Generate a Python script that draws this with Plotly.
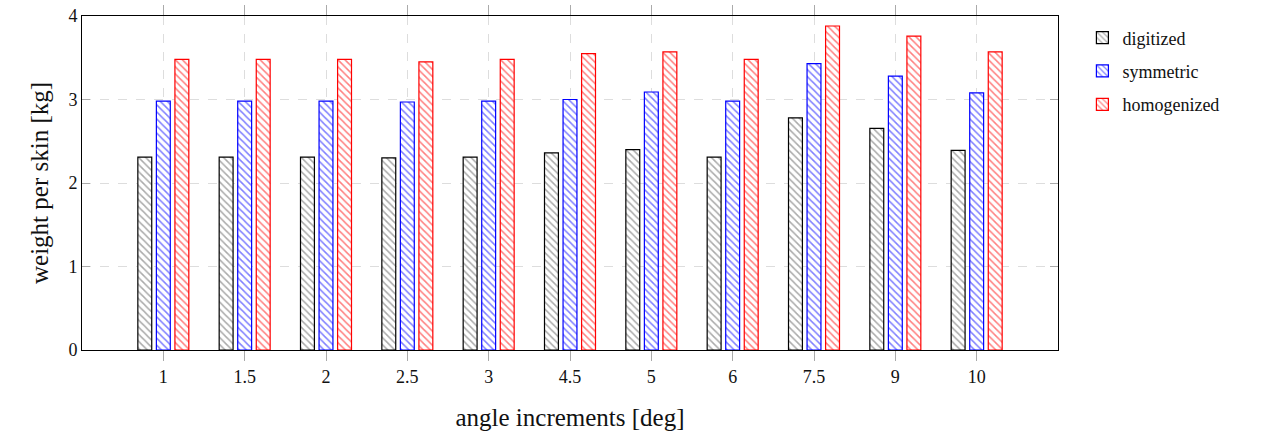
import plotly.graph_objects as go

categories = ["1", "1.5", "2", "2.5", "3", "4.5", "5", "6", "7.5", "9", "10"]
digitized = [2.31, 2.31, 2.31, 2.30, 2.31, 2.36, 2.40, 2.31, 2.78, 2.655, 2.39]
symmetric = [2.98, 2.98, 2.98, 2.97, 2.98, 3.00, 3.09, 2.98, 3.43, 3.28, 3.08]
homogenized = [3.48, 3.48, 3.48, 3.45, 3.48, 3.55, 3.57, 3.48, 3.88, 3.76, 3.57]
y_ticks = [0, 1, 2, 3, 4]

series = [
    ("digitized", digitized, "#000000", "#555555"),
    ("symmetric", symmetric, "#0000ff", "#0000ff"),
    ("homogenized", homogenized, "#ff0000", "#ff0000"),
]

FONT = "Liberation Serif"
TXT = "#111111"

fig = go.Figure()
for name, vals, line_c, hatch_c in series:
    fig.add_trace(go.Bar(
        x=categories, y=vals, name=name, legendgroup=name,
        marker=dict(
            color="white",
            line=dict(color=line_c, width=1.2),
            pattern=dict(shape="\\", fgcolor=hatch_c, bgcolor="white",
                         size=5, solidity=0.3, fillmode="overlay"),
        ),
    ))

fig.update_layout(
    width=1268, height=436,
    margin=dict(l=82, r=210, t=16, b=86, autoexpand=False),
    paper_bgcolor="white", plot_bgcolor="white",
    barmode="group", bargap=0.316, bargroupgap=0.25,
    font=dict(family=FONT, size=17, color=TXT),
    legend=dict(x=1.025, y=0.99, xanchor="left", yanchor="top",
                font=dict(family=FONT, size=18, color=TXT),
                bgcolor="rgba(0,0,0,0)", itemwidth=30, tracegroupgap=7),
    showlegend=True,
)
fig.update_xaxes(
    type="category", categoryorder="array", categoryarray=categories,
    range=[-1, 11], automargin=False, ticklabeloverflow="allow",
    showline=True, linecolor="black", linewidth=1, mirror="ticks",
    ticks="outside", ticklen=10, tickcolor="#aaaaaa", tickwidth=1,
    showgrid=True, gridcolor="#dddddd", griddash="dash", gridwidth=1,
    tickfont=dict(family=FONT, size=18, color=TXT),
    title=dict(text="angle increments [deg]", font=dict(family=FONT, size=25, color=TXT), standoff=22),
)
fig.update_yaxes(
    range=[0, 4], tickvals=y_ticks, automargin=False, ticklabeloverflow="allow",
    showline=True, linecolor="black", linewidth=1, mirror="ticks",
    ticks="inside", ticklen=8, tickcolor="#aaaaaa", tickwidth=1,
    showgrid=True, gridcolor="#dddddd", griddash="dash", gridwidth=1,
    zeroline=False,
    tickfont=dict(family=FONT, size=18, color=TXT),
    title=dict(text="weight per skin [kg]", font=dict(family=FONT, size=25, color=TXT), standoff=12),
)

fig.write_html("out.html", config={"displayModeBar": False},
               post_script="document.body.style.margin='0px';")
